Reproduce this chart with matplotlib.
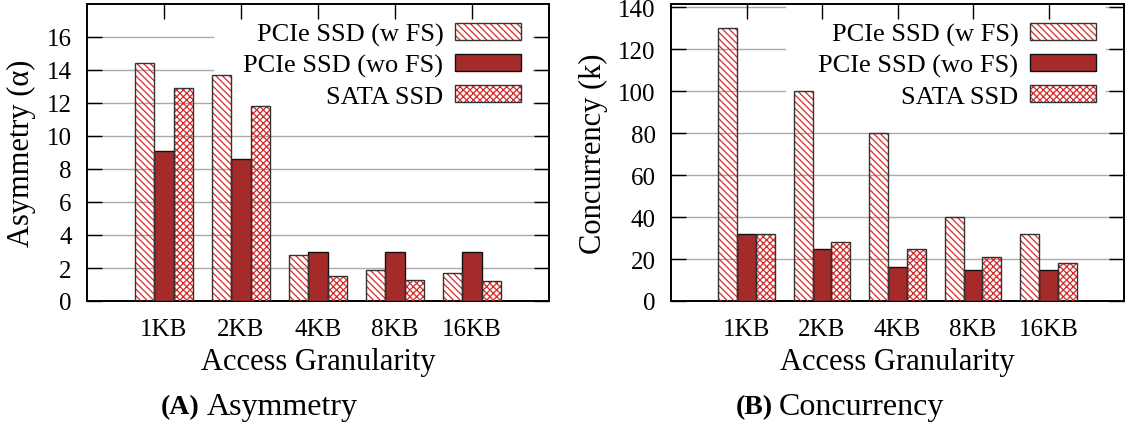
import numpy as np
import matplotlib
matplotlib.use('Agg')
import matplotlib.pyplot as plt
from matplotlib.patches import Patch
from matplotlib.legend_handler import HandlerTuple

plt.rcParams['font.family'] = ['Liberation Serif', 'DejaVu Serif']
plt.rcParams['hatch.linewidth'] = 0.9

sizes = ['1KB', '2KB', '4KB', '8KB', '16KB']
series = ['PCIe SSD (w FS)', 'PCIe SSD (wo FS)', 'SATA SSD']

asym_wfs = [14.4, 13.7, 2.8, 1.9, 1.7]
asym_wofs = [9.1, 8.6, 3.0, 3.0, 3.0]
asym_sata = [12.9, 11.8, 1.5, 1.3, 1.2]

conc_wfs = [130, 100, 80, 40, 32]
conc_wofs = [32, 25, 16, 15, 15]
conc_sata = [32, 28, 25, 21, 18]

red = '#d42a2a'
brown = '#a52a2a'
edge = '#333333'
styles = [dict(hatch='\\\\\\\\\\', fill=False),
          dict(hatch=None, fill=True),
          dict(hatch='xxxxx', fill=False)]

W, H = 1130, 431
fig = plt.figure(figsize=(W / 100, H / 100), dpi=100)
ax1 = fig.add_axes([87 / W, 129 / H, 462 / W, 297 / H])
ax2 = fig.add_axes([671 / W, 129 / H, 453 / W, 297 / H])


def draw(ax, data, ymax, yticks, ylabel, ylab_x, wpx, blank):
    x = np.arange(1, len(sizes) + 1)
    w = 0.25
    handles = []
    for i, (vals, st) in enumerate(zip(data, styles)):
        pos = x + (i - 1) * w
        if st['fill']:
            ax.bar(pos, vals, w, color=brown, edgecolor='#111111', lw=1.0, zorder=3)
            h = Patch(facecolor=brown, edgecolor='#111111', lw=1.0)
        else:
            ax.bar(pos, vals, w, facecolor='none', edgecolor=red, lw=0, hatch=st['hatch'], zorder=3)
            ax.bar(pos, vals, w, facecolor='none', edgecolor=edge, lw=1.0, zorder=4)
            h = (Patch(facecolor='none', edgecolor=red, lw=0, hatch=st['hatch']),
                 Patch(facecolor='none', edgecolor=edge, lw=1.0))
        handles.append(h)
    ax.set_xlim(0, 6)
    ax.set_ylim(0, ymax)
    ax.set_yticks(yticks)
    ax.set_xticks(x)
    ax.set_xticklabels(sizes)
    # grid lines, broken where the key sits
    for yv in yticks[1:]:
        if yv / ymax >= blank[1]:
            ax.axhline(yv, 0, blank[0], color='#aaaaaa', lw=1.0, zorder=1)
            ax.axhline(yv, blank[2], 1, color='#aaaaaa', lw=1.0, zorder=1)
        else:
            ax.axhline(yv, color='#aaaaaa', lw=1.0, zorder=1)
    ax.tick_params(axis='y', direction='in', length=11, width=1.0, right=True,
                   labelsize=18, pad=11)
    ax.tick_params(axis='x', direction='in', length=11, width=1.0, top=False,
                   labelsize=18, pad=12)
    # top ticks (inward) at the category positions
    ax.vlines(x, 1 - 15 / 297, 1, transform=ax.get_xaxis_transform(),
              colors='black', lw=1.0, zorder=6, clip_on=False)
    for s in ax.spines.values():
        s.set_linewidth(1.4)
    ax.set_xlabel('Access Granularity', fontsize=22)
    ax.xaxis.label.set_va('center')
    ax.xaxis.set_label_coords(0.5, -0.205)
    ax.set_ylabel(ylabel, fontsize=22)
    ax.yaxis.label.set_va('center')
    ax.yaxis.set_label_coords(ylab_x, 0.5)
    ax.legend(handles, series, loc='upper right', markerfirst=False,
              bbox_to_anchor=(1 - 28 / wpx, 1 - 19 / 297),
              fontsize=19, frameon=False, handlelength=2.5, handleheight=0.59,
              handletextpad=0.44, labelspacing=0.3, borderpad=0, borderaxespad=0,
              handler_map={tuple: HandlerTuple(ndivide=1, pad=0)})


draw(ax1, [asym_wfs, asym_wofs, asym_sata], 18, [0, 2, 4, 6, 8, 10, 12, 14, 16],
     'Asymmetry (\u03b1)', -0.141, 462, (0.273, 0.62, 0.965))
draw(ax2, [conc_wfs, conc_wofs, conc_sata], 141.6, [0, 20, 40, 60, 80, 100, 120, 140],
     'Concurrency (k)', -0.172, 453, (0.252, 0.64, 0.960))

fig.text(200 / W, 23 / H, '(A)', fontsize=20, fontweight='bold', ha='right', va='center')
fig.text(207 / W, 23 / H, 'Asymmetry', fontsize=23, ha='left', va='center')
fig.text(773 / W, 23 / H, '(B)', fontsize=20, fontweight='bold', ha='right', va='center')
fig.text(779 / W, 23 / H, 'Concurrency', fontsize=23, ha='left', va='center')

fig.savefig('out.png', dpi=100)
